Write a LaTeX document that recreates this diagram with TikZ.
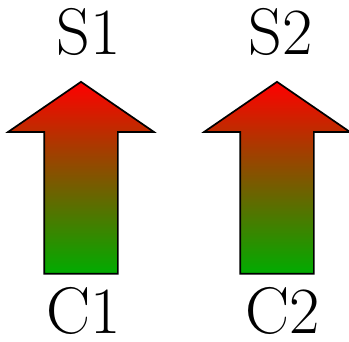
\documentclass[tikz,border=0pt]{standalone}
\usepackage{tikz}
\usetikzlibrary{shapes.arrows}
\definecolor{sigred}{RGB}{255,0,0}
\definecolor{sigreen}{RGB}{0,172,0}

\begin{document}
\begin{tikzpicture}[
  x=1pt, y=1pt,
  every node/.style={font=\fontsize{66}{72}\selectfont, inner sep=0pt},
  uparrow/.style={single arrow, draw, line width=1.7pt, rotate=90,
    inner xsep=0pt, inner ysep=36pt,
    minimum height=192pt, minimum width=144pt,
    single arrow head extend=36pt, single arrow tip angle=111,
    top color=sigred, bottom color=sigreen}
]
\useasboundingbox (0,0) rectangle (349,341);

\node[uparrow] (a1) at (81,150.5) {};
\node[uparrow] (a2) at (277,150.5) {};

\node[anchor=base] (s1) at (89,286) {S1};
\node[anchor=base] (s2) at (281,286) {S2};
\node[anchor=base] (c1) at (84,8) {C1};
\node[anchor=base] (c2) at (283,8) {C2};

\end{tikzpicture}
\end{document}
